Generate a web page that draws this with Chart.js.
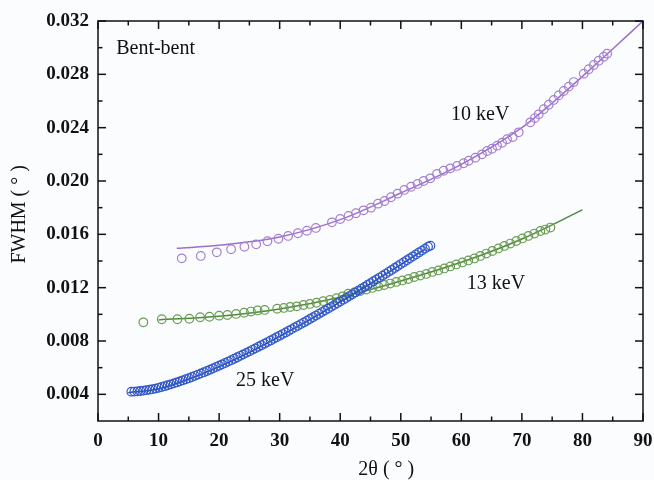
<!DOCTYPE html>
<html>
<head>
<meta charset="utf-8">
<script src="https://cdn.jsdelivr.net/npm/chart.js@4.4.0/dist/chart.umd.min.js"></script>
<style>
  html, body { margin: 0; padding: 0; background: #fbfcfd; }
  canvas { display: block; }
</style>
</head>
<body>
<canvas id="chart" width="654" height="480"></canvas>
<script>
// axis ticks
const xTicks = [0, 10, 20, 30, 40, 50, 60, 70, 80, 90];
const xMinorTicks = [5, 15, 25, 35, 45, 55, 65, 75, 85];
const yTicks = [0.004, 0.008, 0.012, 0.016, 0.020, 0.024, 0.028, 0.032];
const yMinorTicks = [0.006, 0.010, 0.014, 0.018, 0.022, 0.026, 0.030];

// 10 keV measured
const kev10X = [13.83, 16.98, 19.62, 21.98, 24.18, 26.12, 27.98, 29.80, 31.40, 33.01, 34.50, 35.98, 38.63, 40.00, 41.37, 42.60, 43.85, 45.07, 46.23, 47.32, 48.38, 49.47, 50.58, 51.69, 52.78, 53.77, 54.88, 55.98, 57.07, 58.18, 59.29, 60.38, 61.21, 62.31, 63.42, 64.25, 65.07, 65.90, 66.73, 67.55, 68.48, 69.47, 71.40, 72.15, 72.78, 73.60, 74.43, 75.26, 76.08, 76.91, 77.74, 78.56, 80.21, 81.04, 81.87, 82.69, 83.52, 84.08];
const kev10Y = [0.01420, 0.01438, 0.01465, 0.01488, 0.01507, 0.01525, 0.01548, 0.01567, 0.01588, 0.01608, 0.01627, 0.01648, 0.01690, 0.01715, 0.01738, 0.01758, 0.01780, 0.01800, 0.01830, 0.01850, 0.01878, 0.01905, 0.01933, 0.01957, 0.01978, 0.02000, 0.02020, 0.02053, 0.02077, 0.02095, 0.02113, 0.02133, 0.02152, 0.02175, 0.02200, 0.02225, 0.02242, 0.02265, 0.02287, 0.02313, 0.02330, 0.02365, 0.02440, 0.02472, 0.02500, 0.02538, 0.02572, 0.02608, 0.02642, 0.02675, 0.02708, 0.02742, 0.02805, 0.02838, 0.02870, 0.02902, 0.02932, 0.02955];
// 10 keV fit
const fit10X = [13, 20, 30, 40, 50, 60, 70, 75, 80, 85, 90];
const fit10Y = [0.01495, 0.01518, 0.01580, 0.01710, 0.01910, 0.02125, 0.02400, 0.02585, 0.02785, 0.02990, 0.03200];

// 13 keV measured
const kev13X = [7.49, 10.53, 13.11, 15.09, 16.86, 18.40, 20.00, 21.37, 22.81, 24.13, 25.26, 26.36, 27.52, 29.59, 30.69, 31.74, 32.84, 33.93, 34.99, 36.08, 37.19, 38.30, 39.39, 40.41, 41.32, 42.31, 43.31, 44.30, 45.29, 46.28, 47.27, 48.26, 49.26, 50.25, 51.24, 52.23, 53.22, 54.21, 55.21, 56.20, 57.19, 58.18, 59.17, 60.17, 61.16, 62.15, 63.14, 64.13, 65.12, 66.12, 67.11, 68.10, 69.09, 70.08, 71.07, 72.07, 73.06, 73.88, 74.71];
const kev13Y = [0.00940, 0.00963, 0.00963, 0.00967, 0.00978, 0.00982, 0.00990, 0.00995, 0.01003, 0.01012, 0.01021, 0.01029, 0.01033, 0.01042, 0.01048, 0.01055, 0.01060, 0.01070, 0.01078, 0.01087, 0.01099, 0.01108, 0.01121, 0.01135, 0.01155, 0.01164, 0.01175, 0.01186, 0.01198, 0.01209, 0.01220, 0.01231, 0.01243, 0.01254, 0.01265, 0.01280, 0.01291, 0.01303, 0.01318, 0.01329, 0.01344, 0.01359, 0.01374, 0.01389, 0.01404, 0.01419, 0.01438, 0.01456, 0.01475, 0.01494, 0.01513, 0.01531, 0.01550, 0.01569, 0.01588, 0.01606, 0.01625, 0.01636, 0.01651];
// 13 keV fit
const fit13X = [10, 20, 30, 40, 50, 60, 70, 80];
const fit13Y = [0.00958, 0.00985, 0.01040, 0.01128, 0.01250, 0.01390, 0.01565, 0.01783];

// 25 keV measured
const kev25X = [5.5, 6.0, 6.5, 7.0, 7.5, 8.0, 8.5, 9.0, 9.5, 10.0, 10.5, 11.0, 11.5, 12.0, 12.5, 13.0, 13.5, 14.0, 14.5, 15.0, 15.5, 16.0, 16.5, 17.0, 17.5, 18.0, 18.5, 19.0, 19.5, 20.0, 20.5, 21.0, 21.5, 22.0, 22.5, 23.0, 23.5, 24.0, 24.5, 25.0, 25.5, 26.0, 26.5, 27.0, 27.5, 28.0, 28.5, 29.0, 29.5, 30.0, 30.5, 31.0, 31.5, 32.0, 32.5, 33.0, 33.5, 34.0, 34.5, 35.0, 35.5, 36.0, 36.5, 37.0, 37.5, 38.0, 38.5, 39.0, 39.5, 40.0, 40.5, 41.0, 41.5, 42.0, 42.5, 43.0, 43.5, 44.0, 44.5, 45.0, 45.5, 46.0, 46.5, 47.0, 47.5, 48.0, 48.5, 49.0, 49.5, 50.0, 50.5, 51.0, 51.5, 52.0, 52.5, 53.0, 53.5, 54.0, 54.5, 54.9];
const kev25Y = [0.00420, 0.00421, 0.00422, 0.00425, 0.00428, 0.00431, 0.00435, 0.00439, 0.00443, 0.00449, 0.00455, 0.00461, 0.00468, 0.00475, 0.00482, 0.00489, 0.00497, 0.00505, 0.00513, 0.00521, 0.00530, 0.00539, 0.00548, 0.00557, 0.00566, 0.00575, 0.00585, 0.00595, 0.00605, 0.00615, 0.00625, 0.00635, 0.00646, 0.00656, 0.00667, 0.00678, 0.00689, 0.00700, 0.00711, 0.00722, 0.00734, 0.00745, 0.00757, 0.00768, 0.00780, 0.00792, 0.00804, 0.00816, 0.00828, 0.00840, 0.00852, 0.00864, 0.00877, 0.00889, 0.00902, 0.00914, 0.00927, 0.00939, 0.00952, 0.00965, 0.00978, 0.00991, 0.01004, 0.01017, 0.01030, 0.01043, 0.01056, 0.01069, 0.01083, 0.01096, 0.01110, 0.01123, 0.01137, 0.01150, 0.01164, 0.01178, 0.01192, 0.01206, 0.01220, 0.01234, 0.01248, 0.01262, 0.01276, 0.01290, 0.01304, 0.01319, 0.01333, 0.01348, 0.01362, 0.01377, 0.01391, 0.01406, 0.01420, 0.01435, 0.01449, 0.01464, 0.01478, 0.01493, 0.01507, 0.01515];
// 25 keV fit
const fit25X = [5, 10, 15, 20, 25, 30, 35, 40, 45, 50, 54];
const fit25Y = [0.00412, 0.00442, 0.00515, 0.00608, 0.00715, 0.00835, 0.00960, 0.01093, 0.01230, 0.01372, 0.01488];

// text labels placed in data units
const notes = [
  { text: 'Bent-bent', x: 3.0, y: 0.02953 },
  { text: '10 keV', x: 58.3, y: 0.02458 },
  { text: '13 keV', x: 60.9, y: 0.01190 },
  { text: '25 keV', x: 22.8, y: 0.00459 }
];

const SERIF = '"Liberation Serif", "DejaVu Serif", serif';

function pts(xs, ys) {
  return xs.map((x, i) => ({ x: x, y: ys[i] }));
}

function dots(data, color, order) {
  return {
    data: data, order: order, showLine: false,
    pointRadius: 4.3, pointHoverRadius: 4.3,
    pointBorderWidth: 1.2, pointBorderColor: color,
    pointBackgroundColor: 'rgba(0,0,0,0)'
  };
}

function fitLine(data, color, order) {
  return {
    data: data, order: order, showLine: true,
    borderColor: color, borderWidth: 1.5,
    pointRadius: 0, tension: 0.4, cubicInterpolationMode: 'monotone'
  };
}

const framePlugin = {
  id: 'frame',
  afterDraw(chart) {
    const ctx = chart.ctx;
    const a = chart.chartArea;
    const xs = chart.scales.x, ys = chart.scales.y;
    ctx.save();
    ctx.strokeStyle = '#111';
    ctx.lineWidth = 1.5;
    ctx.strokeRect(a.left, a.top, a.right - a.left, a.bottom - a.top);

    function seg(x1, y1, x2, y2) {
      ctx.beginPath(); ctx.moveTo(x1, y1); ctx.lineTo(x2, y2); ctx.stroke();
    }
    // inward ticks on all four sides
    xTicks.forEach(v => { const p = xs.getPixelForValue(v); seg(p, a.bottom, p, a.bottom - 8); seg(p, a.top, p, a.top + 8); });
    xMinorTicks.forEach(v => { const p = xs.getPixelForValue(v); seg(p, a.bottom, p, a.bottom - 4.5); seg(p, a.top, p, a.top + 4.5); });
    yTicks.forEach(v => { const p = ys.getPixelForValue(v); seg(a.left, p, a.left + 8, p); seg(a.right, p, a.right - 8, p); });
    yMinorTicks.forEach(v => { const p = ys.getPixelForValue(v); seg(a.left, p, a.left + 4.5, p); seg(a.right, p, a.right - 4.5, p); });

    // notes
    ctx.fillStyle = '#111';
    ctx.font = '20px ' + SERIF;
    ctx.textAlign = 'left';
    ctx.textBaseline = 'alphabetic';
    notes.forEach(n => ctx.fillText(n.text, xs.getPixelForValue(n.x), ys.getPixelForValue(n.y)));

    // axis titles
    ctx.textAlign = 'center';
    ctx.textBaseline = 'middle';
    ctx.fillText('2θ ( ° )', xs.getPixelForValue(47.6), 470);
    ctx.save();
    ctx.translate(20, ys.getPixelForValue(0.0175));
    ctx.rotate(-Math.PI / 2);
    ctx.fillText('FWHM ( ° )', 0, 0);
    ctx.restore();
    ctx.restore();
  }
};

new Chart(document.getElementById('chart'), {
  type: 'scatter',
  data: {
    datasets: [
      dots(pts(kev10X, kev10Y), '#a57fd0', 1),
      fitLine(pts(fit10X, fit10Y), '#9d6fcd', 2),
      dots(pts(kev25X, kev25Y), '#3158c8', 3),
      fitLine(pts(fit25X, fit25Y), '#2748b5', 4),
      dots(pts(kev13X, kev13Y), '#6a9c52', 5),
      fitLine(pts(fit13X, fit13Y), '#4f8a3a', 6)
    ]
  },
  options: {
    responsive: false,
    animation: false,
    devicePixelRatio: 1,
    layout: { padding: { top: 21, right: 11, left: 0, bottom: 0 } },
    plugins: { legend: { display: false }, tooltip: { enabled: false } },
    scales: {
      x: {
        type: 'linear', position: 'bottom', min: 0, max: 90,
        grid: { display: false, drawTicks: false },
        border: { display: false },
        ticks: { font: { family: SERIF, size: 19, weight: 'bold' }, color: '#111', padding: 9, maxRotation: 0 },
        afterBuildTicks: s => { s.ticks = xTicks.map(v => ({ value: v })); },
        afterFit: s => { s.height = 59; s.paddingLeft = 0; s.paddingRight = 11; }
      },
      y: {
        type: 'linear', position: 'left', min: 0.002, max: 0.032,
        grid: { display: false, drawTicks: false },
        border: { display: false },
        ticks: {
          font: { family: SERIF, size: 19, weight: 'bold' }, color: '#111', padding: 9,
          callback: v => v.toFixed(3)
        },
        afterBuildTicks: s => { s.ticks = yTicks.map(v => ({ value: v })); },
        afterFit: s => { s.width = 98; s.paddingTop = 0; s.paddingBottom = 0; }
      }
    }
  },
  plugins: [framePlugin]
});
</script>
</body>
</html>
